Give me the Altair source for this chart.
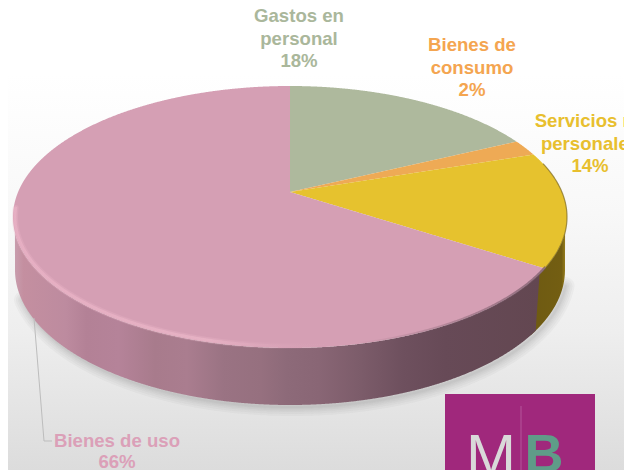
import altair as alt
import numpy as np
import pandas as pd

categories = ["Gastos en personal", "Bienes de consumo", "Servicios no personales", "Bienes de uso"]
shares = [18, 2, 14, 66]
face_colors = ["#aeb99d", "#eeaa55", "#e6c22e", "#d59fb4"]
text_colors = ["#aab79b", "#f4a550", "#e8bf2e", "#dba0b8"]
label_lines = [["Gastos en", "personal"], ["Bienes de", "consumo"], ["Servicios no", "personales"], ["Bienes de uso"]]

# layout of the pie drawing (pixel frame of the picture)
X0, X1, Y0, Y1 = 8, 624, 8, 470
CX, CY, RX, RY = 290, 217, 277, 131
AX, AY = 290, 192
BCX, BCY, BRX, BRY = 290, 270, 275, 135
K = RY / RX

xenc = lambda f="x": alt.X(f"{f}:Q", axis=None, scale=alt.Scale(domain=[X0, X1], nice=False, zero=False))
yenc = lambda f="y": alt.Y(f"{f}:Q", axis=None, scale=alt.Scale(domain=[Y0, Y1], nice=False, zero=False, reverse=True))

def top_up(x):
    return CY - RY * np.sqrt(np.clip(1 - ((x - CX) / RX) ** 2, 0, 1))
def top_low(x):
    return CY + RY * np.sqrt(np.clip(1 - ((x - CX) / RX) ** 2, 0, 1))
def bot_low(x):
    return BCY + BRY * np.sqrt(np.clip(1 - ((x - BCX) / BRX) ** 2, 0, 1))
def ray(a, x):
    r = np.radians(a)
    return AY + (x - AX) * (-K * np.cos(r) / np.sin(r))

grid = CX + RX * np.sin(np.radians(np.linspace(-90, 90, 1201)))

cum = np.cumsum([0] + shares) * 3.6
rows = []
for i, c in enumerate(categories):
    a0, a1 = cum[i], cum[i + 1]
    if a1 > 180:
        xl = grid[grid < AX]
        rows += [dict(cat=c, x=round(float(x), 2), y=round(float(top_up(x)), 2), y2=round(float(top_low(x)), 2)) for x in xl]
        rows.append(dict(cat=c, x=AX - 0.01, y=CY - RY, y2=CY + RY))
    xr = grid[grid >= AX]
    up = top_up(xr) if a0 == 0 else np.maximum(top_up(xr), ray(a0, xr))
    lo = top_low(xr) if a1 > 180 else np.minimum(top_low(xr), ray(a1, xr))
    keep = up <= lo
    rows += [dict(cat=c, x=round(float(x), 2), y=round(float(u), 2), y2=round(float(l), 2))
             for x, u, l in zip(xr[keep], up[keep], lo[keep])]
faces = pd.DataFrame(rows)

color = alt.Color("cat:N", legend=None, scale=alt.Scale(domain=categories, range=face_colors))

# background
bg = alt.Chart(pd.DataFrame({"x": [X0], "x2": [X1], "y": [75], "y2": [Y1]})).mark_rect(
    color=alt.Gradient(gradient="linear", x1=0, x2=0, y1=0, y2=1,
                       stops=[alt.GradientStop(offset=0, color="#ffffff"),
                              alt.GradientStop(offset=0.35, color="#f8f8f8"),
                              alt.GradientStop(offset=0.65, color="#eeeeee"),
                              alt.GradientStop(offset=1, color="#dcdcdc")])
).encode(x=xenc(), x2="x2:Q", y=yenc(), y2="y2:Q")

# soft shadow below the disc
t = np.radians(np.linspace(-78, 84, 240))
sh = pd.DataFrame({"x": BCX + 2 + BRX * np.sin(t), "y": BCY + 2 + BRY * np.cos(t), "i": np.arange(240)}).round(2)
shadow = [alt.Chart(sh).mark_line(color="#555555", opacity=0.045, strokeWidth=w, strokeCap="round").encode(
              x=xenc(), y=yenc(), order="i:Q")
          for w in [18, 14, 10, 7, 4, 2]]

# side walls
wx = grid
wy = pd.DataFrame({"x": wx, "y": top_low(wx), "y2": np.maximum(bot_low(wx), top_low(wx))})
wy.loc[(wy["x"] > BCX + BRX) | (wy["x"] < BCX - BRX), "y2"] = wy["y"]
yellow_wall = wy[wy["x"] >= 530].round(2)
edge = 325 + (wy["x"] - 536) * (268 - 325) / 4
pink_wall = wy[wy["x"] <= 540].copy()
pink_wall["y2"] = np.minimum(pink_wall["y2"], np.where(pink_wall["x"] > 536, edge[pink_wall.index], pink_wall["y2"]))
pink_wall = pink_wall.round(2)

wall_stops = [(0, "#c9a0b0"), (0.02, "#c48fa0"), (0.1, "#bd8b9f"), (0.14, "#b38196"), (0.2, "#b58399"), (0.27, "#a87b8c"),
              (0.33, "#aa7d8f"), (0.4, "#9a7383"), (0.47, "#96707f"), (0.52, "#8d6a79"), (0.58, "#896675"),
              (0.66, "#7c5c6a"), (0.74, "#6e505e"), (0.82, "#674a57"), (1, "#634751")]
w_pink = alt.Chart(pink_wall).mark_area(
    color=alt.Gradient(gradient="linear", x1=0, x2=1, y1=0, y2=0,
                       stops=[alt.GradientStop(offset=o, color=c) for o, c in wall_stops])
).encode(x=xenc(), y=yenc(), y2="y2:Q")
w_yellow = alt.Chart(yellow_wall).mark_area(
    color=alt.Gradient(gradient="linear", x1=0, x2=1, y1=0, y2=0,
                       stops=[alt.GradientStop(offset=0, color="#6e5a12"),
                              alt.GradientStop(offset=0.85, color="#735e12"),
                              alt.GradientStop(offset=1, color="#a58a20")])
).encode(x=xenc(), y=yenc(), y2="y2:Q")

# top face
face = alt.Chart(faces).mark_area(interpolate="linear").encode(x=xenc(), y=yenc(), y2="y2:Q", color=color)

# rim light and dark edges
def rim(t0, t1, inset=0.0, n=200):
    t = np.radians(np.linspace(t0, t1, n))
    return pd.DataFrame({"x": CX + (RX - inset) * np.sin(t), "y": CY - (RY - inset) * np.cos(t), "i": np.arange(n)}).round(2)

def light(op):
    return alt.Gradient(gradient="linear", x1=0, x2=1, y1=0, y2=0,
                        stops=[alt.GradientStop(offset=0, color=f"rgba(240,184,203,{op})"),
                               alt.GradientStop(offset=0.6, color=f"rgba(240,188,205,{op})"),
                               alt.GradientStop(offset=1, color="rgba(213,159,180,0)")])

rim_src = rim(274, 170, inset=2.0)
rim_glow = alt.Chart(rim_src).mark_line(strokeWidth=6, strokeCap="round", stroke=light(0.25)).encode(
    x=xenc(), y=yenc(), order="i:Q")
rim_light = alt.Chart(rim_src).mark_line(strokeWidth=3, strokeCap="round", stroke=light(0.5)).encode(
    x=xenc(), y=yenc(), order="i:Q")
rim_dark = alt.Chart(rim(166, 112.5, inset=0.5)).mark_line(
    strokeWidth=2.5,
    stroke=alt.Gradient(gradient="linear", x1=0, x2=1, y1=0, y2=0,
                        stops=[alt.GradientStop(offset=0, color="rgba(120,90,105,0)"),
                               alt.GradientStop(offset=1, color="rgba(120,90,105,0.75)")])
).encode(x=xenc(), y=yenc(), order="i:Q")
rim_yellow = alt.Chart(rim(66, 112.5)).mark_line(color="#7d6a20", opacity=0.7, strokeWidth=1.2).encode(
    x=xenc(), y=yenc(), order="i:Q")

# leader line
leader = alt.Chart(pd.DataFrame({"x": [34, 44, 52], "y": [318, 441, 441], "i": [0, 1, 2]})).mark_line(
    color="#bdbdbd", strokeWidth=1).encode(x=xenc(), y=yenc(), order="i:Q")

# labels
anchors = [(299, 16), (472, 45), (590, 121), (117, 441)]
lh = 22.5
tr = []
for c, lines, s, (ax, ay) in zip(categories, label_lines, shares, anchors):
    for j, ln in enumerate(lines + [f"{s}%"]):
        tr.append(dict(cat=c, x=ax, y=ay + j * (lh if len(lines) > 1 else 21), t=ln))
labels = alt.Chart(pd.DataFrame(tr)).mark_text(
    font="Liberation Sans", fontWeight="bold", fontSize=18.6, align="center", baseline="middle", clip=True
).encode(x=xenc(), y=yenc(), text="t:N",
         color=alt.Color("cat:N", legend=None, scale=alt.Scale(domain=categories, range=text_colors)))

# logo
logo_bg = alt.Chart(pd.DataFrame({"x": [445], "x2": [595], "y": [394], "y2": [Y1]})).mark_rect(color="#a0287c").encode(
    x=xenc(), x2="x2:Q", y=yenc(), y2="y2:Q")
logo_rule = alt.Chart(pd.DataFrame({"x": [521], "y": [406], "y2": [Y1]})).mark_rule(color="#b4559a", strokeWidth=1).encode(
    x=xenc(), y=yenc(), y2="y2:Q")
logo_m = alt.Chart(pd.DataFrame({"x": [491], "y": [476], "t": ["M"]})).mark_text(
    font="Liberation Sans", fontSize=60, color="#d9d9d9", align="center", baseline="alphabetic", clip=True
).encode(x=xenc(), y=yenc(), text="t:N")
logo_b = alt.Chart(pd.DataFrame({"x": [544], "y": [472], "t": ["B"]})).mark_text(
    font="Liberation Sans", fontSize=54, fontWeight="bold", color="#5f9c88", align="center", baseline="alphabetic", clip=True
).encode(x=xenc(), y=yenc(), text="t:N")

chart = alt.layer(
    bg, *shadow, w_yellow, w_pink, face, rim_glow, rim_light, rim_dark, rim_yellow, leader, labels,
    logo_bg, logo_rule, logo_m, logo_b
).resolve_scale(color="independent").properties(
    width=X1 - X0, height=Y1 - Y0, padding=0, autosize=alt.AutoSizeParams(type="none"), background="white"
).configure_view(strokeWidth=0)

chart.save("out.html", embed_options={"renderer": "svg", "actions": False})
